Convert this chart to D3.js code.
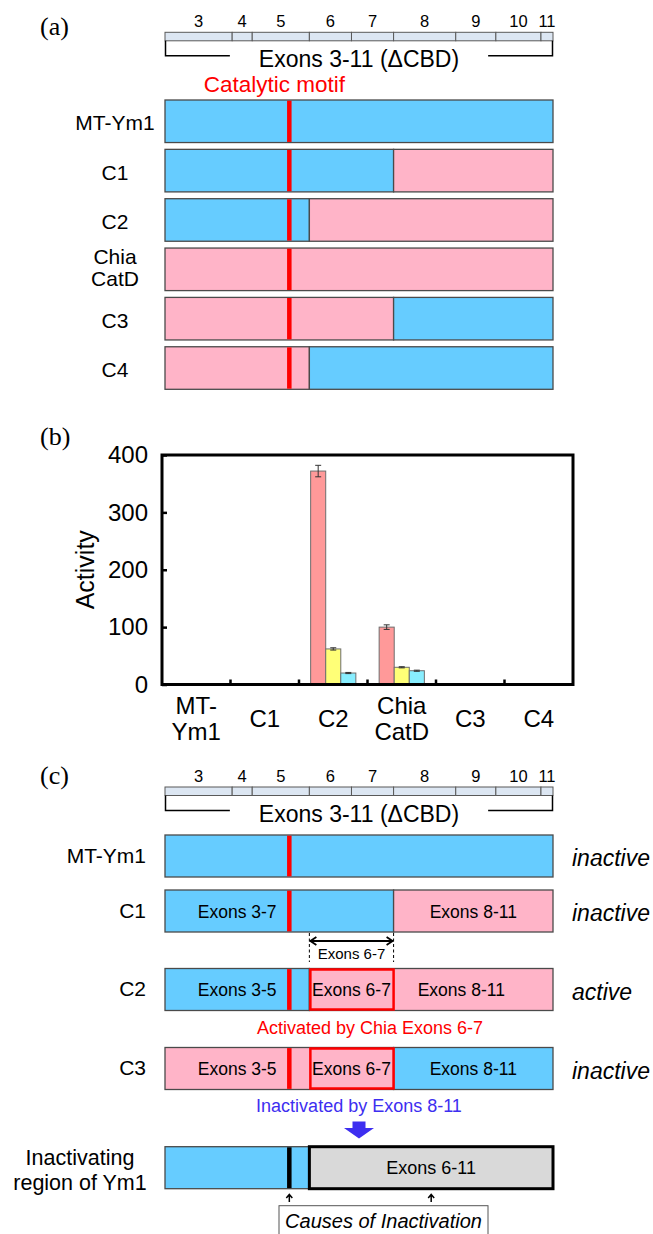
<!DOCTYPE html>
<html>
<head>
<meta charset="utf-8">
<script src="https://cdn.jsdelivr.net/npm/d3@7"></script>
<style>
  html, body { margin: 0; padding: 0; background: #fff; }
  svg { display: block; }
  text { font-family: "Liberation Sans", Arial, sans-serif; fill: #000; }
  .tag { font-family: "Liberation Serif", "Times New Roman", serif; font-size: 26px; }
</style>
</head>
<body>
<svg id="fig" width="653" height="1234"></svg>
<script>
// exon map of the catalytic domain (relative lengths)
const exonNums = [3, 4, 5, 6, 7, 8, 9, 10, 11];
const exonSizes = [67, 20, 57, 42, 42, 62, 40, 45, 12];
const motifPos = 124;

// panel (a): constructs, segments as [fromExon, toExon, origin]
const constructsA = ['MT-Ym1', 'C1', 'C2', 'Chia\nCatD', 'C3', 'C4'];
const segmentsA = [
  [[3, 11, 'Ym1']],
  [[3, 7, 'Ym1'], [8, 11, 'Chia']],
  [[3, 5, 'Ym1'], [6, 11, 'Chia']],
  [[3, 11, 'Chia']],
  [[3, 7, 'Chia'], [8, 11, 'Ym1']],
  [[3, 5, 'Chia'], [6, 11, 'Ym1']]
];

// panel (b): activity
const activityCats = ['MT-\nYm1', 'C1', 'C2', 'Chia\nCatD', 'C3', 'C4'];
const seriesNames = ['s1', 's2', 's3'];
const activityS1 = [0, 0, 372, 100, 0, 0];
const activityS2 = [0, 0, 62, 30, 0, 0];
const activityS3 = [0, 0, 20, 24, 0, 0];
const errorS1 = [0, 0, 10, 4, 0, 0];
const errorS2 = [0, 0, 2, 1, 0, 0];
const errorS3 = [0, 0, 1, 1, 0, 0];
const yTicks = [0, 100, 200, 300, 400];

// panel (c)
const constructsC = ['MT-Ym1', 'C1', 'C2', 'C3'];
const segmentsC = [segmentsA[0], segmentsA[1], segmentsA[2], segmentsA[4]];
const statusC = ['inactive', 'inactive', 'active', 'inactive'];
const exonLabelsC = [
  [],
  [['Exons 3-7', 3, 5], ['Exons 8-11', 8, 11]],
  [['Exons 3-5', 3, 5], ['Exons 6-7', 6, 7], ['Exons 8-11', 8, 11]],
  [['Exons 3-5', 3, 5], ['Exons 6-7', 6, 7], ['Exons 8-11', 8, 11]]
];
const highlightC = [null, null, [6, 7], [6, 7]];
const regionLabel = ['Inactivating', 'region of Ym1'];
const regionSegments = [[3, 5, 'Ym1'], [6, 11, 'gray']];
const regionBoxLabel = 'Exons 6-11';

const BAR_X0 = 165, BAR_X1 = 553;
const COLORS = { Ym1: '#66ccff', Chia: '#ffb4c8', gray: '#d9d9d9' };
const SERIES_COLORS = ['#ff9999', '#ffff77', '#88eeff'];
const RED = '#ff0000', BLUE_TXT = '#3d2ef0';

const svg = d3.select('#fig');

const exonStart = d3.cumsum([0, ...exonSizes]);
const xExon = d3.scaleLinear().domain([0, d3.sum(exonSizes)]).range([BAR_X0, BAR_X1]);
const exL = n => xExon(exonStart[exonNums.indexOf(n)]);
const exR = n => xExon(exonStart[exonNums.indexOf(n) + 1]);
const xMotif = xExon(motifPos);

function tag(label, y) {
  svg.append('text').attr('class', 'tag').attr('x', 40).attr('y', y).text(label);
}

function drawExonScale(top) {
  const g = svg.append('g');
  const h = 8.5;
  g.selectAll('rect').data(exonNums).join('rect')
    .attr('x', n => exL(n)).attr('width', n => exR(n) - exL(n))
    .attr('y', top).attr('height', h)
    .attr('fill', '#dce6f2').attr('stroke', '#595959').attr('stroke-width', 1);
  g.selectAll('text.num').data(exonNums).join('text')
    .attr('class', 'num')
    .attr('x', n => (exL(n) + exR(n)) / 2).attr('y', top - 5.5)
    .attr('text-anchor', 'middle').attr('font-size', 16.5)
    .text(n => n);

  const cx = (BAR_X0 + BAR_X1) / 2;
  const title = g.append('text')
    .attr('x', cx).attr('y', top + 34.5)
    .attr('text-anchor', 'middle').attr('font-size', 23)
    .text('Exons 3-11 (\u0394CBD)');
  const half = title.node().getComputedTextLength() / 2 + 29;
  const by = top + h + 15;
  g.append('path')
    .attr('d', `M${BAR_X0 + 0.5},${top + h}V${by}H${cx - half}M${cx + half},${by}H${BAR_X1 - 0.5}V${top + h}`)
    .attr('fill', 'none').attr('stroke', '#000').attr('stroke-width', 1.5);
}

function drawConstruct(g, y, h, segs, motifColor) {
  segs.forEach(([a, b, src]) => {
    g.append('rect')
      .attr('x', exL(a)).attr('y', y)
      .attr('width', exR(b) - exL(a)).attr('height', h)
      .attr('fill', COLORS[src])
      .attr('stroke', src === 'gray' ? '#000' : '#4a4a4a')
      .attr('stroke-width', src === 'gray' ? 3 : 1.3);
  });
  g.append('rect')
    .attr('x', xMotif - 2.25).attr('y', y + 0.6)
    .attr('width', 4.5).attr('height', h - 1.2)
    .attr('fill', motifColor);
}

// ---------------- panel (a)
tag('(a)', 35);
drawExonScale(32.3);
svg.append('text')
  .attr('x', xMotif - 15).attr('y', 92)
  .attr('text-anchor', 'middle').attr('font-size', 22.5).style('fill', RED)
  .text('Catalytic motif');

const yRowA = d3.scaleBand().domain(constructsA).range([100, 389.3]).paddingInner(0.138);
const gA = svg.append('g');
constructsA.forEach((c, i) => {
  const y = yRowA(c), h = yRowA.bandwidth();
  drawConstruct(gA, y, h, segmentsA[i], RED);
  const lines = c.split('\n');
  const mid = y + h / 2;
  lines.forEach((ln, k) => {
    gA.append('text')
      .attr('x', 115).attr('y', lines.length === 1 ? mid + 9 : mid - 5 + k * 21.6)
      .attr('text-anchor', 'middle').attr('font-size', 21)
      .text(ln);
  });
});

// ---------------- panel (b)
tag('(b)', 445);
const bx0 = 162, bx1 = 573, by0 = 455, by1 = 684.5;
const xCat = d3.scaleBand().domain(activityCats).range([bx0, bx1]);
const xSer = d3.scaleBand().domain(seriesNames)
  .range([xCat.bandwidth() * 0.17, xCat.bandwidth() * 0.83]);
const yAct = d3.scaleLinear().domain([0, 400]).range([by1, by0]);
const values = [activityS1, activityS2, activityS3];
const errors = [errorS1, errorS2, errorS3];

const barData = activityCats.flatMap((c, i) => seriesNames.map((s, j) => ({
  cat: c, s, v: values[j][i], e: errors[j][i], color: SERIES_COLORS[j]
}))).filter(d => d.v > 0);

const gB = svg.append('g');
gB.selectAll('rect.bar').data(barData).join('rect')
  .attr('class', 'bar')
  .attr('x', d => xCat(d.cat) + xSer(d.s))
  .attr('width', xSer.bandwidth())
  .attr('y', d => yAct(d.v))
  .attr('height', d => yAct(0) - yAct(d.v))
  .attr('fill', d => d.color)
  .attr('stroke', '#6e6e6e').attr('stroke-width', 1);

const errG = gB.selectAll('g.err').data(barData.filter(d => d.e > 0)).join('g')
  .attr('class', 'err')
  .attr('transform', d => `translate(${xCat(d.cat) + xSer(d.s) + xSer.bandwidth() / 2},0)`)
  .attr('stroke', '#333').attr('stroke-width', 1);
errG.append('line').attr('y1', d => yAct(d.v + d.e)).attr('y2', d => yAct(d.v - d.e));
errG.append('line').attr('x1', -3).attr('x2', 3).attr('y1', d => yAct(d.v + d.e)).attr('y2', d => yAct(d.v + d.e));
errG.append('line').attr('x1', -3).attr('x2', 3).attr('y1', d => yAct(d.v - d.e)).attr('y2', d => yAct(d.v - d.e));

const yAxis = gB.append('g')
  .attr('transform', `translate(${bx0},0)`)
  .call(d3.axisLeft(yAct).tickValues(yTicks).tickSize(-5).tickPadding(14));
yAxis.select('.domain').remove();
yAxis.selectAll('.tick line').attr('stroke', '#000').attr('stroke-width', 2.5);
yAxis.selectAll('.tick text')
  .attr('font-size', 24).attr('fill', '#000')
  .style('font-family', '"Liberation Sans", Arial, sans-serif');

gB.selectAll('line.xtick').data(activityCats.slice(1)).join('line')
  .attr('class', 'xtick')
  .attr('x1', d => xCat(d)).attr('x2', d => xCat(d))
  .attr('y1', by1).attr('y2', by1 - 5)
  .attr('stroke', '#000').attr('stroke-width', 2.5);

gB.append('rect')
  .attr('x', bx0).attr('y', by0).attr('width', bx1 - bx0).attr('height', by1 - by0)
  .attr('fill', 'none').attr('stroke', '#000').attr('stroke-width', 3);

activityCats.forEach(c => {
  const lines = c.split('\n');
  const cx = xCat(c) + xCat.bandwidth() / 2;
  lines.forEach((ln, k) => {
    gB.append('text')
      .attr('x', cx)
      .attr('y', lines.length === 1 ? 726.5 : 713.5 + k * 26)
      .attr('text-anchor', 'middle').attr('font-size', 24)
      .text(ln);
  });
});

gB.append('text')
  .attr('transform', `translate(94,${(by0 + by1) / 2}) rotate(-90)`)
  .attr('text-anchor', 'middle').attr('font-size', 25)
  .text('Activity');

// ---------------- panel (c)
tag('(c)', 784);
drawExonScale(787);

const rowTopC = [835, 890, 968.5, 1047.5];
const rowH = 42;
const gC = svg.append('g');
constructsC.forEach((c, i) => {
  const y = rowTopC[i], mid = y + rowH / 2;
  drawConstruct(gC, y, rowH, segmentsC[i], RED);
  if (highlightC[i]) {
    const [a, b] = highlightC[i];
    gC.append('rect')
      .attr('x', exL(a) + 1).attr('y', y + 1)
      .attr('width', exR(b) - exL(a) - 1).attr('height', rowH - 2)
      .attr('fill', 'none').attr('stroke', RED).attr('stroke-width', 2.5);
  }
  exonLabelsC[i].forEach(([txt, a, b]) => {
    const nudge = (c === 'C2' && a === 8) ? -12 : 0;
    gC.append('text')
      .attr('x', (exL(a) + exR(b)) / 2 + nudge).attr('y', mid + 6.5)
      .attr('text-anchor', 'middle').attr('font-size', 17.5)
      .text(txt);
  });
  gC.append('text')
    .attr('x', 146).attr('y', mid + 6.5)
    .attr('text-anchor', 'end').attr('font-size', 21)
    .text(c);
  gC.append('text')
    .attr('x', 572).attr('y', mid + 10)
    .attr('font-size', 23).attr('font-style', 'italic')
    .text(statusC[i]);
});

// exons 6-7 span marker between C1 and C2
const sx0 = exL(6), sx1 = exR(7);
const c1Bottom = rowTopC[1] + rowH;
gC.append('g')
  .attr('stroke', '#000').attr('stroke-width', 1).attr('stroke-dasharray', '3,2.5')
  .selectAll('line').data([sx0, sx1]).join('line')
  .attr('x1', d => d).attr('x2', d => d)
  .attr('y1', c1Bottom + 1).attr('y2', c1Bottom + 30);
const ay = c1Bottom + 9;
gC.append('path')
  .attr('d', `M${sx0 + 1},${ay}H${sx1 - 1}M${sx0 + 7},${ay - 4}L${sx0 + 1},${ay}L${sx0 + 7},${ay + 4}M${sx1 - 7},${ay - 4}L${sx1 - 1},${ay}L${sx1 - 7},${ay + 4}`)
  .attr('fill', 'none').attr('stroke', '#000').attr('stroke-width', 1.8);
gC.append('text')
  .attr('x', (sx0 + sx1) / 2).attr('y', c1Bottom + 27)
  .attr('text-anchor', 'middle').attr('font-size', 15)
  .text('Exons 6-7');

gC.append('text')
  .attr('x', 370).attr('y', rowTopC[2] + rowH + 23.5)
  .attr('text-anchor', 'middle').attr('font-size', 18).style('fill', RED)
  .text('Activated by Chia Exons 6-7');
gC.append('text')
  .attr('x', (BAR_X0 + BAR_X1) / 2).attr('y', rowTopC[3] + rowH + 22)
  .attr('text-anchor', 'middle').attr('font-size', 18).style('fill', BLUE_TXT)
  .text('Inactivated by Exons 8-11');

// big down arrow
const acx = (BAR_X0 + BAR_X1) / 2;
gC.append('path')
  .attr('d', `M${acx - 6.5},1121.5H${acx + 6.5}V1128H${acx + 15}L${acx},1138.5L${acx - 15},1128H${acx - 6.5}Z`)
  .attr('fill', BLUE_TXT);

// inactivating region row
const ry = 1146.7, rMid = ry + rowH / 2;
drawConstruct(gC, ry, rowH, regionSegments, '#000');
const gx0 = exL(6), gx1 = exR(11);
gC.append('text')
  .attr('x', (gx0 + gx1) / 2).attr('y', rMid + 6.5)
  .attr('text-anchor', 'middle').attr('font-size', 18)
  .text(regionBoxLabel);
regionLabel.forEach((ln, k) => {
  gC.append('text')
    .attr('x', 80).attr('y', 1165 + k * 25)
    .attr('text-anchor', 'middle').attr('font-size', 21.5)
    .text(ln);
});

// small up arrows to the causes box
[xMotif, (gx0 + gx1) / 2].forEach(x => {
  gC.append('path')
    .attr('d', `M${x},1202V1194.5M${x - 3},1198L${x},1194.5L${x + 3},1198`)
    .attr('fill', 'none').attr('stroke', '#000').attr('stroke-width', 1.5);
});
gC.append('rect')
  .attr('x', 279).attr('y', 1205.7).attr('width', 209).attr('height', 40)
  .attr('fill', '#fff').attr('stroke', '#555').attr('stroke-width', 1);
gC.append('text')
  .attr('x', 383.5).attr('y', 1228.3)
  .attr('text-anchor', 'middle').attr('font-size', 20).attr('font-style', 'italic')
  .text('Causes of Inactivation');
</script>
</body>
</html>
